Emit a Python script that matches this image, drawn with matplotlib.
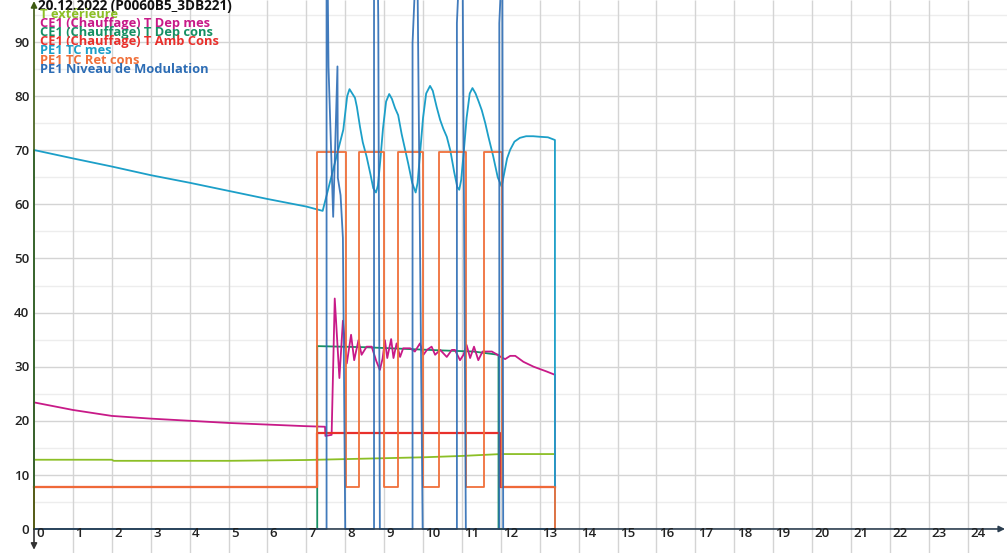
import matplotlib
matplotlib.use("Agg")
import matplotlib.pyplot as plt

plt.rcParams['font.family'] = ['Open Sans', 'DejaVu Sans']

W, H = 1007, 553
title = "20.12.2022 (P0060B5_3DB221)"
series_names = ["T extérieure", "CE1 (Chauffage) T Dep mes", "CE1 (Chauffage) T Dep cons",
                "CE1 (Chauffage) T Amb Cons", "PE1 TC mes", "PE1 TC Ret cons",
                "PE1 Niveau de Modulation"]
colors = ["#8cbf26", "#c81a88", "#169063", "#e8302c", "#1c9fc8", "#f0703a", "#2d6db5"]

x_ticks = list(range(0, 25))
y_ticks = list(range(0, 100, 10))

# T extérieure
text_t = [0, 2.0, 2.05, 5.0, 7.0, 8.5, 10.0, 11.0, 12.0, 13.39]
text_v = [12.8, 12.8, 12.6, 12.6, 12.75, 13.0, 13.25, 13.5, 13.85, 13.85]

# CE1 T Dep mes
dmes_t = [0, 0, 1, 2, 3, 4, 5, 6, 7, 7.48, 7.49, 7.65, 7.73, 7.85, 7.94, 8.04, 8.15, 8.23,
          8.34, 8.42, 8.55, 8.68, 8.80, 8.89, 8.96, 9.02, 9.08, 9.18, 9.24, 9.32, 9.41, 9.49,
          9.67, 9.79, 9.92, 10.01, 10.10, 10.22, 10.31, 10.44, 10.61, 10.74, 10.82, 10.95,
          11.04, 11.12, 11.21, 11.31, 11.42, 11.53, 11.64, 11.77, 11.89, 12.0, 12.11, 12.24,
          12.37, 12.58, 12.84, 13.18, 13.39, 13.39]
dmes_v = [0, 23.4, 22.0, 20.9, 20.4, 20.0, 19.6, 19.3, 19.0, 18.9, 17.2, 17.4, 42.6, 27.9,
          38.5, 30.6, 35.9, 31.2, 34.9, 32.2, 33.7, 33.7, 31.0, 29.4, 31.5, 34.9, 31.6,
          35.1, 31.6, 34.3, 31.8, 33.4, 33.4, 32.8, 34.3, 32.2, 33.1, 33.7, 32.2, 33.1,
          31.8, 33.1, 33.1, 31.2, 32.2, 34.0, 31.6, 33.7, 31.2, 32.8, 32.8, 32.8, 32.3,
          31.8, 31.4, 32.0, 32.0, 30.9, 30.0, 29.1, 28.5, 7.8]

# CE1 T Dep cons
dcons_t = [0, 7.28, 7.28, 8.5, 9.5, 10.5, 11.3, 11.94, 11.94, 13.39]
dcons_v = [0, 0, 33.8, 33.6, 33.3, 33.0, 32.8, 32.2, 0, 0]

# CE1 T Amb Cons (step)
amb_t = [0, 7.27, 11.98, 13.39]
amb_v = [7.8, 17.7, 7.8, 7.8]

# PE1 TC mes
tc_t = [0, 0, 1, 2, 3, 4, 5, 6, 7, 7.42, 7.95, 8.05, 8.11, 8.18, 8.25, 8.30, 8.38, 8.45,
        8.55, 8.65, 8.72, 8.79, 8.84, 8.90, 8.97, 9.05, 9.13, 9.20, 9.28, 9.36, 9.45,
        9.54, 9.62, 9.72, 9.81, 9.86, 9.93, 10.00, 10.08, 10.18, 10.25, 10.35, 10.44,
        10.52, 10.61, 10.70, 10.80, 10.88, 10.93, 10.98, 11.05, 11.12, 11.20, 11.27,
        11.35, 11.43, 11.51, 11.60, 11.68, 11.80, 11.92, 12.02, 12.08, 12.16, 12.24,
        12.35, 12.49, 12.65, 12.83, 13.00, 13.21, 13.39, 13.39]
tc_v = [0, 70.05, 68.5, 67.0, 65.4, 64.0, 62.5, 61.0, 59.6, 58.8, 73.8, 80.0, 81.3, 80.5,
        79.7, 78.0, 74.3, 71.5, 68.8, 65.5, 63.0, 62.2, 63.5, 68.0, 74.0, 79.0, 80.4,
        79.5, 77.8, 76.5, 73.0, 70.1, 67.5, 64.0, 62.2, 64.0, 70.0, 76.0, 80.5, 81.9,
        81.0, 78.0, 75.6, 74.0, 72.5, 70.0, 66.0, 63.2, 62.7, 64.5, 70.0, 76.0, 80.5,
        81.5, 80.5, 79.0, 77.4, 75.0, 72.5, 69.0, 65.0, 63.3, 65.5, 68.5, 70.1, 71.6,
        72.3, 72.6, 72.6, 72.5, 72.4, 71.9, 0]

# PE1 TC Ret cons (step)
ret_t = [0, 0, 7.27, 8.01, 8.35, 9.0, 9.35, 10.01, 10.42, 11.11, 11.57, 12.04, 13.39]
ret_v = [0, 7.8, 69.7, 7.8, 69.7, 7.8, 69.7, 7.8, 69.7, 7.8, 69.7, 7.8, 0]

# PE1 Niveau de Modulation
mod_t = [0, 7.52, 7.52, 7.55, 7.57, 7.69, 7.80, 7.81, 7.88, 7.94, 8.0,
         8.74, 8.74, 8.84, 8.85, 8.89,
         9.73, 9.73, 9.79, 9.86, 9.99,
         10.87, 10.87, 10.91, 11.02, 11.10,
         11.96, 11.96, 12.0, 12.04, 12.06, 13.39]
mod_v = [0, 0, 100, 100, 85.4, 57.7, 85.5, 64.9, 61.7, 53.8, 0,
         0, 100, 100, 93.5, 0,
         0, 89.8, 100, 100, 0,
         0, 93.5, 100, 100, 0,
         0, 93.5, 100, 100, 0, 0]

fig = plt.figure(figsize=(W / 100, H / 100), dpi=100)
ax = fig.add_axes([0, 0, 1, 1])
x0, x1 = -0.874, 25.01
y0, y1 = -4.44, 97.78
ax.set_xlim(x0, x1)
ax.set_ylim(y0, y1)
ax.axis('off')

# grid
for v in range(5, 100, 10):
    ax.hlines(v, 0, x1, color="#ededed", lw=1.0, zorder=0)
for v in range(10, 100, 10):
    ax.hlines(v, 0, x1, color="#d4d4d4", lw=1.0, zorder=0)
for t in range(1, 25):
    ax.vlines(t, y0, y1, color="#d4d4d4", lw=1.0, zorder=0)

lw = 1.3
ax.plot(text_t, text_v, color=colors[0], lw=lw, zorder=2)
ax.plot(dcons_t, dcons_v, color=colors[2], lw=lw, zorder=2)
ax.plot(dmes_t, dmes_v, color=colors[1], lw=lw, zorder=3)
ax.plot(amb_t, amb_v, color=colors[3], lw=lw + 0.3, drawstyle='steps-post', zorder=3)
ax.plot(tc_t, tc_v, color=colors[4], lw=lw, zorder=4)
ax.plot(ret_t, ret_v, color=colors[5], lw=lw, drawstyle='steps-post', zorder=5)
ax.plot(mod_t, mod_v, color=colors[6], lw=lw, alpha=0.9, zorder=6)

# axes with arrows
ax.annotate('', xy=(x1 - 0.05, 0), xytext=(0, 0),
            arrowprops=dict(arrowstyle='-|>', color="#2c3e50", lw=1.2,
                            mutation_scale=9, shrinkA=0, shrinkB=0), zorder=7)
ax.annotate('', xy=(0, y1 - 0.2), xytext=(0, 0),
            arrowprops=dict(arrowstyle='-|>', color="#3d5a12", lw=1.2,
                            mutation_scale=9, shrinkA=0, shrinkB=0), zorder=7)
ax.annotate('', xy=(0, y0 + 0.6), xytext=(0, 0),
            arrowprops=dict(arrowstyle='-|>', color="#333333", lw=1.2,
                            mutation_scale=9, shrinkA=0, shrinkB=0), zorder=7)

tick_font = dict(fontsize=9.5, fontweight='semibold', color="#222222")
for t in x_ticks:
    ax.text(t + 0.06, -1.55, str(t), ha='left', va='baseline', zorder=8, **tick_font)
for v in y_ticks:
    ax.text(-0.116, v - 0.86, str(v), ha='right', va='baseline', zorder=8, **tick_font)

# title & legend texts
fig.text(38 / W, 1 - 9.6 / H, title, ha='left', va='baseline', fontsize=9.8,
         fontweight='bold', color="#111111")
leg_y = [17.8, 27.2, 36.2, 45.5, 54.5, 63.8, 72.8]
for name, c, yy in zip(series_names, colors, leg_y):
    fig.text(40 / W, 1 - yy / H, name, ha='left', va='baseline', fontsize=9.3,
             fontweight='bold', color=c, zorder=9)

fig.savefig("out.png", dpi=100)
